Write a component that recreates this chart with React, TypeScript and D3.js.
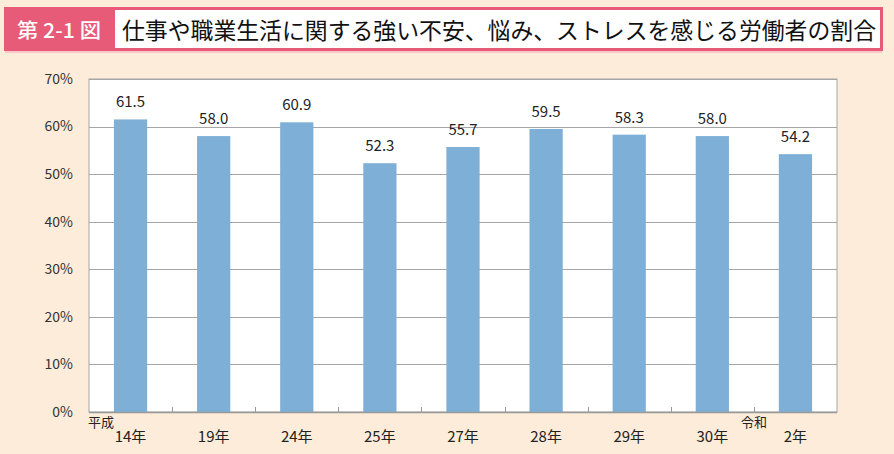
import React from "react";
import * as d3 from "d3";

const categories = ["14年", "19年", "24年", "25年", "27年", "28年", "29年", "30年", "2年"];
const values = [61.5, 58.0, 60.9, 52.3, 55.7, 59.5, 58.3, 58.0, 54.2];
const yTicks = [0, 10, 20, 30, 40, 50, 60, 70];
const eraLabels = [
  { label: "平成", at: 0 },
  { label: "令和", at: 8 },
];
const figLabel = "第 2-1 図";
const title = "仕事や職業生活に関する強い不安、悩み、ストレスを感じる労働者の割合";

const W = 894;
const H = 454;
const plot = { left: 89, right: 837, top: 79, bottom: 412 };
const FONT = "'Noto Sans CJK JP', 'Noto Sans', sans-serif";

export default function App() {
  const x = d3
    .scaleBand<string>()
    .domain(categories)
    .range([plot.left, plot.right])
    .paddingInner(0.6)
    .paddingOuter(0.3);
  const xb = d3.scaleBand<string>().domain(categories).range([plot.left, plot.right]);
  const y = d3.scaleLinear().domain([0, 70]).range([plot.bottom, plot.top]);

  return (
    <div style={{ position: "absolute", left: 0, top: 0, width: W, height: H }}>
      <svg width={W} height={H} style={{ display: "block" }}>
        <rect x={0} y={0} width={W} height={H} fill="#fdecd9" />
        {/* title */}
        <rect x={5.5} y={8.5} width={876} height={41} fill="#ffffff" stroke="#e85b78" strokeWidth={3} />
        <rect x={5} y={8} width={110} height={42} fill="#e85b78" />
        <line x1={5} x2={882} y1={52} y2={52} stroke="#f2a3b2" strokeWidth={1} />
        <text x={17} y={38} fill="#ffffff" fontFamily={FONT} fontSize={20} fontWeight={500} textLength={84} lengthAdjust="spacingAndGlyphs">
          {figLabel}
        </text>
        <text x={122} y={39} fill="#111" fontFamily={FONT} fontSize={23} textLength={754} lengthAdjust="spacingAndGlyphs">
          {title}
        </text>

        {/* plot area */}
        <rect x={plot.left} y={plot.top} width={plot.right - plot.left} height={plot.bottom - plot.top} fill="#ffffff" stroke="#a6a6a6" strokeWidth={1} />
        {yTicks.map((t) => (
          <g key={t}>
            {t > 0 && (
              <line x1={plot.left} x2={plot.right} y1={Math.round(y(t)) + 0.5} y2={Math.round(y(t)) + 0.5} stroke="#a6a6a6" strokeWidth={1} />
            )}
            <text x={73} y={y(t)} dy="0.35em" textAnchor="end" fontFamily={FONT} fontSize={14} fill="#333">
              {t}%
            </text>
          </g>
        ))}
        {values.map((v, i) => {
          const c = categories[i];
          return (
            <g key={c}>
              <rect x={x(c)} y={y(v)} width={x.bandwidth()} height={plot.bottom - y(v)} fill="#7eb0d7" />
              <text x={x(c)! + x.bandwidth() / 2} y={y(v) - 12} textAnchor="middle" fontFamily={FONT} fontSize={15} fill="#222">
                {v.toFixed(1)}
              </text>
            </g>
          );
        })}
        {/* axis */}
        <line x1={plot.left} x2={plot.right} y1={plot.bottom + 0.5} y2={plot.bottom + 0.5} stroke="#999" strokeWidth={1.5} />
        {categories.slice(1).map((c) => (
          <line key={c} x1={Math.round(xb(c)!) + 0.5} x2={Math.round(xb(c)!) + 0.5} y1={plot.bottom} y2={plot.bottom - 5} stroke="#999" strokeWidth={1} />
        ))}
        {categories.map((c) => (
          <text key={c} x={xb(c)! + xb.bandwidth() / 2} y={442} textAnchor="middle" fontFamily={FONT} fontSize={15} fill="#222">
            {c}
          </text>
        ))}
        {eraLabels.map((e) => (
          <text
            key={e.label}
            x={e.at === 0 ? plot.left - 1 : xb(categories[e.at])!}
            y={427}
            textAnchor={e.at === 0 ? "start" : "middle"}
            fontFamily={FONT}
            fontSize={13}
            fill="#222"
          >
            {e.label}
          </text>
        ))}
      </svg>
    </div>
  );
}
